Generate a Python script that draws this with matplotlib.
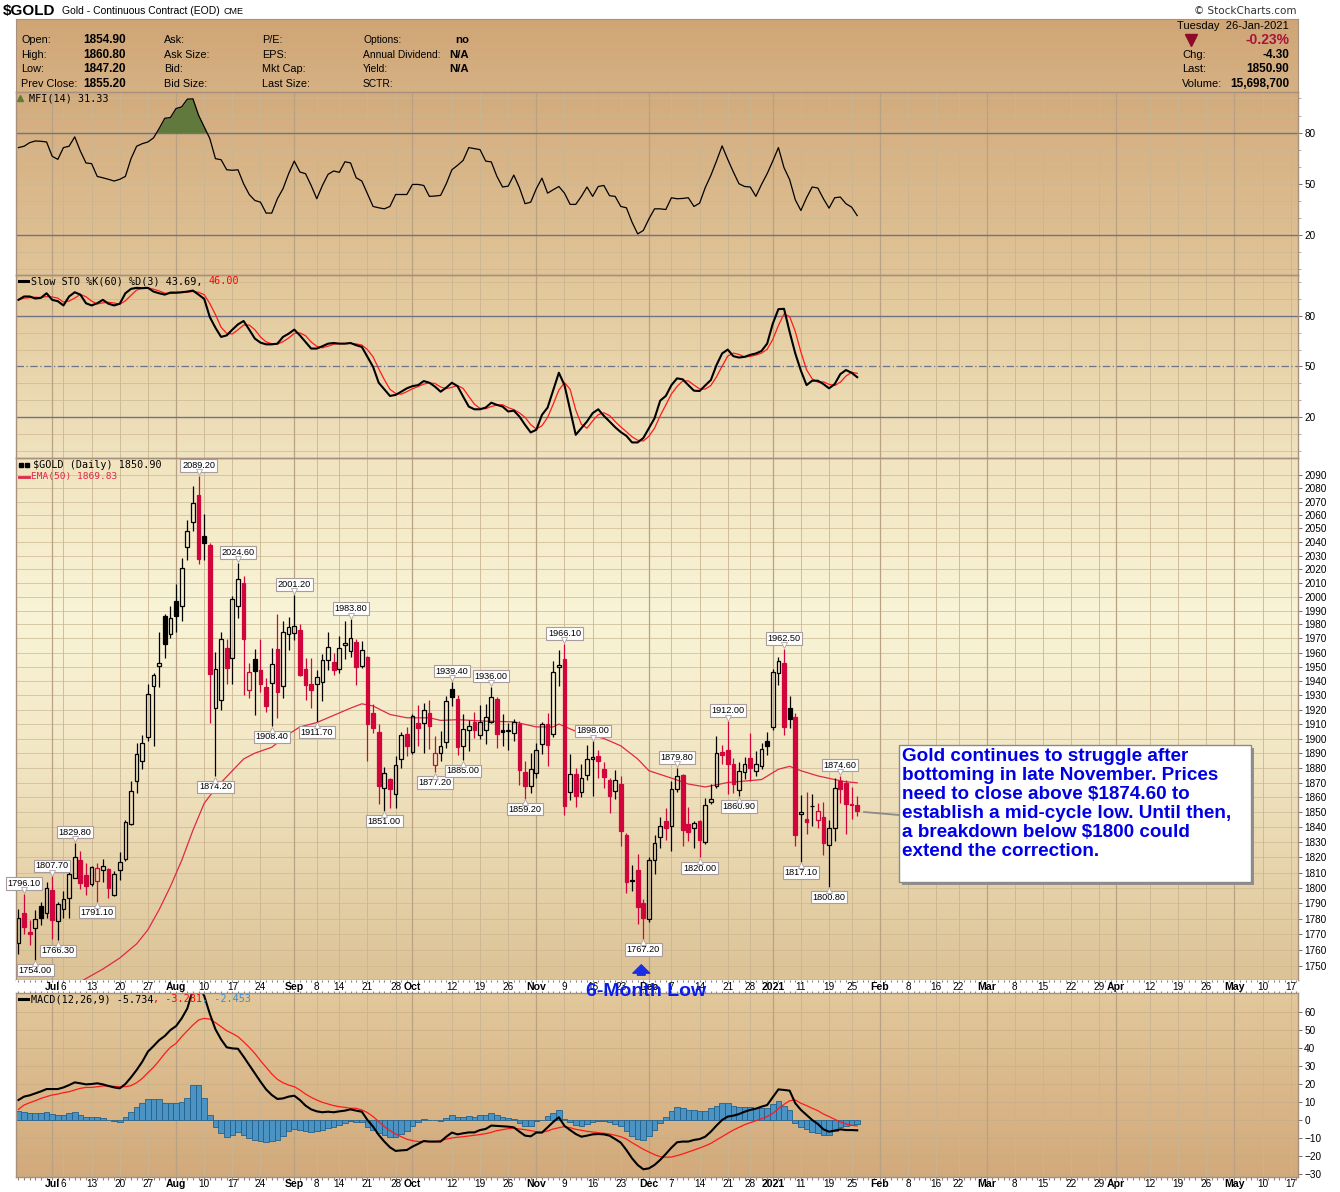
import numpy as np
import pandas as pd
import matplotlib
matplotlib.use("Agg")
import matplotlib.pyplot as plt
import matplotlib.transforms as mtrans
from matplotlib.colors import to_rgb
from matplotlib.patches import Rectangle, FancyArrowPatch
from matplotlib.ticker import FixedLocator, NullLocator, FuncFormatter

plt.rcParams['font.family'] = ['Liberation Sans', 'DejaVu Sans']

W, H = 1340, 1192

# ---------------- data ----------------
start_date = '2020-06-23'
end_axis_date = '2021-05-28'
holidays = ['2020-07-03', '2020-09-07', '2020-11-26', '2020-12-25',
            '2021-01-01', '2021-01-18', '2021-02-15', '2021-04-02']

opens = [1764.6, 1784.0, 1771.8, 1774.0, 1788.5, 1783.6, 1798.6, 1778.5, 1786.7, 1793.4,
         1806.8, 1818.1, 1808.2, 1802.3, 1804.6, 1811.5, 1812.7, 1795.6, 1812.0, 1818.8,
         1842.2, 1870.9, 1884.9, 1901.0, 1936.3, 1950.6, 1986.0, 1973.2, 1996.7, 1993.5,
         2036.0, 2054.7, 2075.2, 2044.2, 2037.6, 1921.2, 1926.6, 1963.5, 1956.3, 1993.2,
         2010.0, 1933.6, 1955.6, 1947.8, 1935.5, 1938.5, 1962.7, 1936.6, 1973.3, 1974.0,
         1976.2, 1948.5, 1937.6, 1937.6, 1939.2, 1954.7, 1953.5, 1948.5, 1965.7, 1961.0,
         1967.6, 1950.4, 1956.8, 1917.6, 1904.7, 1866.6, 1872.2, 1862.5, 1885.8, 1902.9,
         1891.0, 1910.9, 1910.9, 1917.8, 1881.9, 1890.3, 1897.6, 1934.5, 1927.1, 1894.9,
         1905.6, 1911.6, 1902.4, 1905.6, 1911.6, 1927.1, 1905.9, 1905.0, 1903.6, 1909.7,
         1877.4, 1867.7, 1876.7, 1896.5, 1909.7, 1902.9, 1949.9, 1955.6, 1863.6, 1875.6,
         1863.6, 1875.1, 1885.8, 1888.0, 1879.0, 1871.9, 1864.3, 1869.2, 1834.9, 1805.5,
         1811.8, 1790.5, 1779.8, 1818.2, 1833.6, 1844.2, 1840.9, 1865.9, 1875.1, 1842.4,
         1839.3, 1844.2, 1830.2, 1857.2, 1867.7, 1891.0, 1892.4, 1882.8, 1864.8, 1877.4,
         1886.9, 1877.9, 1881.3, 1898.3, 1907.9, 1945.7, 1952.8, 1921.3, 1914.9, 1848.6,
         1845.5, 1853.9, 1845.1, 1846.9, 1828.2, 1839.3, 1871.1, 1870.0, 1855.6, 1854.9]
highs = [1786.7, 1796.1, 1779.2, 1785.8, 1790.7, 1804.1, 1807.7, 1790.7, 1797.9, 1814.2,
         1829.8, 1824.5, 1816.5, 1814.2, 1816.5, 1818.8, 1813.1, 1810.9, 1823.4, 1844.5,
         1870.9, 1896.7, 1902.2, 1938.0, 1945.5, 1974.4, 1987.5, 1993.0, 2009.1, 2027.9,
         2056.0, 2081.7, 2089.2, 2060.6, 2039.4, 1960.5, 1974.4, 1969.6, 2000.4, 2024.6,
         2014.9, 1952.8, 1962.2, 1969.3, 1942.2, 1962.9, 1987.2, 1982.4, 1985.5, 2001.2,
         1980.0, 1956.3, 1956.3, 1948.0, 1959.1, 1974.8, 1959.8, 1971.6, 1982.4, 1983.8,
         1969.3, 1968.1, 1957.5, 1923.6, 1909.7, 1880.6, 1873.3, 1888.0, 1904.7, 1907.9,
         1917.1, 1923.2, 1924.8, 1926.4, 1901.7, 1905.2, 1929.7, 1939.4, 1930.4, 1917.1,
         1912.5, 1918.5, 1923.2, 1923.6, 1936.0, 1929.0, 1917.1, 1910.9, 1913.2, 1912.0,
         1884.6, 1890.3, 1897.2, 1911.6, 1917.8, 1954.0, 1961.7, 1966.1, 1889.2, 1880.1,
         1882.4, 1895.6, 1898.0, 1892.0, 1884.2, 1872.9, 1878.3, 1874.5, 1836.5, 1815.1,
         1822.1, 1792.7, 1820.3, 1834.9, 1846.9, 1852.7, 1871.1, 1879.8, 1875.6, 1853.5,
         1844.2, 1844.7, 1859.4, 1869.2, 1901.7, 1895.6, 1912.0, 1886.9, 1884.2, 1887.4,
         1904.0, 1891.5, 1897.2, 1904.7, 1948.7, 1956.8, 1962.5, 1929.7, 1917.8, 1861.6,
         1863.9, 1862.5, 1856.5, 1857.2, 1844.7, 1872.9, 1874.6, 1871.5, 1866.7, 1860.8]
lows = [1757.6, 1770.3, 1763.0, 1754.0, 1776.3, 1780.7, 1767.4, 1766.3, 1780.7, 1780.7,
        1806.4, 1799.2, 1795.6, 1801.5, 1791.1, 1804.1, 1793.4, 1794.7, 1805.2, 1817.5,
        1841.5, 1863.0, 1879.3, 1898.6, 1895.1, 1935.6, 1956.1, 1970.7, 1974.4, 1982.6,
        2026.6, 2048.3, 2024.1, 2026.6, 1910.5, 1874.2, 1920.0, 1938.0, 1938.0, 1984.8,
        1930.1, 1928.0, 1916.2, 1932.4, 1918.5, 1908.4, 1913.9, 1928.0, 1961.7, 1968.6,
        1943.3, 1926.4, 1921.3, 1911.7, 1926.0, 1948.0, 1944.5, 1945.7, 1955.1, 1956.8,
        1937.3, 1949.2, 1884.6, 1904.0, 1855.3, 1851.0, 1853.1, 1853.0, 1880.1, 1888.0,
        1889.2, 1894.9, 1890.3, 1892.6, 1877.2, 1884.6, 1893.7, 1922.5, 1888.7, 1885.0,
        1891.5, 1900.1, 1899.4, 1896.0, 1910.9, 1893.3, 1894.9, 1892.0, 1898.3, 1868.4,
        1859.2, 1863.2, 1872.9, 1889.6, 1881.3, 1901.0, 1936.3, 1848.5, 1858.0, 1853.6,
        1860.3, 1871.5, 1860.9, 1873.3, 1866.5, 1849.5, 1858.7, 1827.6, 1797.0, 1798.1,
        1776.6, 1767.2, 1778.3, 1809.4, 1826.1, 1831.3, 1824.3, 1863.6, 1827.6, 1830.9,
        1826.1, 1820.0, 1828.7, 1855.4, 1866.5, 1882.4, 1862.0, 1863.2, 1860.9, 1872.2,
        1871.1, 1874.5, 1879.0, 1888.7, 1905.6, 1937.3, 1902.4, 1907.0, 1827.6, 1817.1,
        1835.3, 1840.9, 1839.8, 1821.7, 1800.8, 1830.9, 1856.5, 1835.3, 1845.5, 1847.2]
closes = [1780.7, 1774.7, 1770.3, 1780.0, 1780.7, 1800.1, 1779.2, 1789.6, 1793.0, 1809.1,
          1820.4, 1803.0, 1801.5, 1813.6, 1813.1, 1814.5, 1800.1, 1809.1, 1816.9, 1843.2,
          1864.0, 1889.2, 1896.7, 1930.7, 1944.0, 1952.5, 1965.9, 1985.0, 1986.0, 2020.8,
          2048.3, 2068.8, 2027.4, 2039.4, 1945.2, 1948.4, 1969.6, 1948.9, 1998.0, 2012.5,
          1969.3, 1946.4, 1947.0, 1937.8, 1922.5, 1951.6, 1932.0, 1974.5, 1978.1, 1979.0,
          1944.0, 1936.8, 1933.6, 1942.6, 1954.7, 1963.8, 1947.8, 1962.9, 1966.9, 1970.1,
          1949.6, 1961.7, 1909.7, 1907.0, 1867.7, 1876.7, 1865.4, 1881.9, 1902.4, 1894.9,
          1915.5, 1907.0, 1919.7, 1908.6, 1890.3, 1894.9, 1926.2, 1929.0, 1894.2, 1906.3,
          1908.6, 1905.6, 1911.4, 1914.9, 1929.0, 1903.3, 1904.5, 1905.6, 1911.4, 1878.3,
          1867.7, 1879.0, 1892.0, 1909.7, 1895.6, 1946.2, 1951.3, 1854.2, 1875.6, 1860.9,
          1872.9, 1885.8, 1887.4, 1884.6, 1873.8, 1860.7, 1871.5, 1837.6, 1804.2, 1804.6,
          1787.7, 1780.4, 1818.4, 1829.8, 1840.9, 1839.3, 1865.9, 1874.5, 1838.0, 1836.9,
          1842.9, 1831.3, 1854.9, 1858.9, 1890.1, 1888.5, 1882.4, 1868.8, 1877.9, 1882.8,
          1879.6, 1882.8, 1892.6, 1894.7, 1946.2, 1954.0, 1907.9, 1913.2, 1834.7, 1850.2,
          1843.8, 1854.4, 1851.0, 1829.8, 1839.8, 1866.5, 1865.4, 1855.4, 1855.2, 1850.9]

high_labels = [1, 6, 10, 32, 39, 49, 59, 77, 84, 97, 102, 117, 126, 136, 146]
low_labels = [3, 7, 14, 35, 45, 53, 65, 74, 79, 90, 111, 121, 128, 139, 144]

ema_x = [9, 12, 15, 18, 21, 23, 25, 27, 29, 31, 33, 35, 37, 40, 42, 45, 48, 50, 53, 56,
         59, 61, 63, 66, 69, 73, 75, 78, 83, 88, 92, 95, 96, 99, 104, 107, 110, 112, 116,
         119, 122, 126, 132, 135, 137, 139, 142, 145, 147, 149]
ema_y = [1736, 1742, 1748, 1755, 1764, 1773, 1786, 1801, 1818, 1838, 1856, 1866, 1874,
         1886, 1890, 1894, 1903, 1908, 1911, 1916, 1921, 1924, 1922.5, 1916.6, 1914.3,
         1914.3, 1912.5, 1913, 1912, 1911.5, 1908, 1908, 1910, 1905, 1900, 1895, 1886,
         1878, 1873, 1869, 1867, 1870, 1872, 1879, 1881, 1878, 1874.5, 1872, 1870.5, 1869.83]

mfi = [71.2, 72.0, 74.1, 75.1, 74.9, 74.5, 66.1, 64.3, 71.2, 72.0,
       77.5, 69.2, 62.2, 61.8, 54.3, 53.5, 52.6, 51.6, 52.6, 54.3,
       64.7, 72.0, 73.5, 74.5, 76.9, 82.4, 88.4, 88.8, 94.1, 95.1,
       99.6, 99.8, 90.2, 83.3, 76.5, 64.7, 64.1, 58.2, 57.9, 58.2,
       50.0, 43.7, 40.2, 39.2, 32.8, 32.8, 41.2, 47.1, 55.9, 63.3,
       56.9, 55.9, 49.0, 41.2, 49.0, 55.5, 57.5, 56.7, 62.9, 62.2,
       53.5, 51.6, 44.1, 36.7, 35.9, 35.3, 36.7, 43.7, 43.7, 43.7,
       49.6, 49.6, 49.0, 42.6, 42.8,
       43.2, 50.0, 58.2, 60.8, 63.7, 71.2, 70.6, 70.0, 63.3, 62.8,
       54.3, 48.1, 48.6, 55.1, 47.7, 38.3, 39.2, 47.1, 53.3, 44.5,
       46.5, 48.4, 44.5, 37.9, 37.9, 42.6, 48.1, 42.6, 48.4, 49.0,
       43.0, 42.6, 36.7, 35.9, 27.5, 20.6, 22.6, 29.4, 35.3, 35.3,
       34.9, 41.8, 41.2, 41.4, 41.8, 36.7, 38.6, 47.7, 54.9, 63.3,
       72.2, 64.3, 56.9, 50.0, 48.4, 48.1, 42.6, 49.6, 55.9, 63.3,
       71.2, 59.4, 52.4, 40.6, 34.3, 41.8, 48.1, 47.5, 41.2, 35.7,
       41.8, 42.2, 38.3, 36.3, 31.33]

sto_k = [89.4, 91.4, 91.4, 90.2, 90.6, 93.3, 89.4, 88.6, 86.1, 91.4,
         93.9, 92.5, 87.4, 86.1, 87.4, 89.4, 87.1, 86.1, 87.1, 93.3,
         95.9, 96.5, 96.3, 96.5, 94.3, 93.3, 92.5, 93.7, 93.7, 93.9,
         94.3, 94.9, 92.5, 90.0, 79.2, 72.9, 67.5, 68.4, 71.8, 74.9,
         76.9, 71.8, 66.5, 64.1, 63.1, 63.1, 63.5, 67.5, 69.4, 71.8,
         68.4, 64.5, 60.6, 60.6, 62.0, 63.5, 63.9, 63.5, 63.5, 63.9,
         62.6, 61.6, 55.7, 49.8, 40.4, 36.5, 32.6, 33.2, 35.1, 37.1,
         38.4, 39.0, 41.4, 40.4, 38.1,
         35.1, 37.5, 40.4, 38.4, 32.2, 26.3, 24.7, 24.7, 25.7, 28.6,
         27.3, 26.3, 23.4, 23.9, 20.4, 15.5, 11.0, 12.6, 21.4, 25.7,
         36.1, 46.3, 39.0, 24.3, 9.6, 13.5, 17.5, 22.4, 24.7, 20.8,
         17.5, 14.1, 11.2, 9.0, 5.1, 5.1, 7.7, 13.5, 19.4, 29.8,
         32.6, 39.0, 43.0, 42.4, 39.0, 35.7, 35.5, 38.8, 42.0, 50.8,
         57.7, 60.0, 56.1, 55.3, 55.7, 56.9, 57.7, 59.2, 63.5, 75.3,
         83.9, 84.1, 70.4, 57.7, 47.5, 39.0, 41.6, 41.6, 39.6, 37.1,
         39.6, 45.5, 47.9, 46.3, 43.69]

macd = [11.1, 13.0, 13.7, 14.8, 15.9, 17.2, 17.2, 17.2, 18.1, 19.4,
        20.9, 20.4, 19.8, 20.0, 20.4, 19.8, 18.9, 18.1, 17.6, 20.0,
        23.7, 27.8, 32.4, 38.0, 41.1, 44.4, 46.7, 50.0, 52.2, 56.5,
        62.0, 72.5, 75.0, 69.0, 59.0, 50.4, 44.8, 40.4, 39.8, 39.6,
        35.2, 30.6, 25.9, 21.3, 17.0, 13.9, 11.7, 12.0, 13.0, 13.5,
        11.1, 8.0, 5.9, 4.8, 4.3, 4.6, 4.3, 4.8, 5.2, 5.9,
        5.2, 4.6, 0.0, -3.7, -8.3, -12.0, -15.2, -17.2, -16.9, -16.7,
        -14.8, -13.3, -11.7, -12.0, -12.0,
        -12.0, -9.3, -7.0, -8.0, -7.4, -6.9, -6.9, -5.6, -5.0, -3.1,
        -3.3, -3.5, -3.7, -4.1, -6.5, -8.7, -9.1, -7.0, -7.0, -4.1,
        -1.1, 1.5, -3.3, -5.6, -7.8, -9.3, -8.7, -8.0, -7.8, -8.0,
        -8.7, -10.6, -12.6, -16.7, -21.3, -25.0, -27.4, -26.9, -25.0, -22.2,
        -18.9, -15.4, -12.4, -12.0, -12.0, -11.1, -10.6, -9.3, -6.5, -3.1,
        0.0, 1.9, 2.4, 3.3, 4.6, 5.6, 6.3, 7.4, 8.3, 12.6,
        17.0, 16.7, 16.3, 9.3, 5.6, 2.8, 0.0, -2.2, -5.2, -6.5,
        -5.9, -5.2, -5.6, -5.6, -5.734]
signal = [5.9, 8.3, 9.6, 10.7, 12.0, 13.0, 13.9, 14.4, 15.2, 15.7,
          16.7, 17.6, 18.1, 18.1, 18.5, 18.9, 18.9, 18.7, 18.5, 18.5,
          19.1, 20.7, 23.1, 26.3, 29.3, 33.0, 37.0, 40.4, 42.6, 46.3,
          49.6, 52.8, 55.6, 56.5, 56.1, 54.1, 51.9, 49.6, 48.1, 46.3,
          43.5, 40.4, 37.0, 33.0, 29.3, 25.6, 22.6, 20.7, 19.4, 18.5,
          16.7, 14.4, 12.6, 11.1, 9.8, 8.9, 8.0, 7.4, 7.0, 6.5,
          6.5, 5.6, 4.1, 1.9, -0.9, -3.7, -5.9, -7.8, -9.3, -10.7,
          -11.5, -12.0, -12.0, -12.0, -12.0,
          -11.5, -10.6, -10.0, -9.6, -9.3, -8.9, -8.5, -8.1, -7.6, -6.9,
          -5.9, -5.4, -4.8, -4.6, -5.0, -5.4, -5.9, -6.5, -6.9, -6.1,
          -5.0, -4.3, -3.7, -4.3, -5.2, -5.7, -6.3, -6.7, -7.0, -7.4,
          -7.8, -8.5, -9.3, -10.6, -12.6, -14.4, -16.3, -17.8, -19.3, -20.4,
          -20.7, -20.6, -19.8, -18.9, -17.8, -16.7, -15.6, -14.4, -13.0, -11.1,
          -9.3, -7.4, -5.6, -4.1, -2.6, -1.5, -0.4, 0.7, 1.9, 3.7,
          6.3, 8.7, 10.7, 11.1, 9.3, 8.0, 6.5, 5.2, 3.3, 1.9,
          0.4, -1.1, -2.2, -3.0, -3.281]

tick_dates = ['2020-07-01', '2020-07-06', '2020-07-13', '2020-07-20', '2020-07-27',
              '2020-08-03', '2020-08-10', '2020-08-17', '2020-08-24',
              '2020-09-01', '2020-09-08', '2020-09-14', '2020-09-21', '2020-09-28',
              '2020-10-01', '2020-10-12', '2020-10-19', '2020-10-26',
              '2020-11-02', '2020-11-09', '2020-11-16', '2020-11-23',
              '2020-12-01', '2020-12-07', '2020-12-14', '2020-12-21', '2020-12-28',
              '2021-01-04', '2021-01-11', '2021-01-19', '2021-01-25',
              '2021-02-01', '2021-02-08', '2021-02-16', '2021-02-22',
              '2021-03-01', '2021-03-08', '2021-03-15', '2021-03-22', '2021-03-29',
              '2021-04-01', '2021-04-12', '2021-04-19', '2021-04-26',
              '2021-05-03', '2021-05-10', '2021-05-17']
tick_text = ['Jul', '6', '13', '20', '27', 'Aug', '10', '17', '24',
             'Sep', '8', '14', '21', '28', 'Oct', '12', '19', '26',
             'Nov', '9', '16', '23', 'Dec', '7', '14', '21', '28',
             '2021', '11', '19', '25', 'Feb', '8', '16', '22',
             'Mar', '8', '15', '22', '29', 'Apr', '12', '19', '26',
             'May', '10', '17']

price_ticks = list(range(1750, 2091, 10))
macd_ticks = list(range(-30, 61, 10))

# ---------------- helpers ----------------
days = pd.bdate_range(start_date, end_axis_date)
days = days[~days.isin(pd.to_datetime(holidays))]
day_pos = {d.strftime('%Y-%m-%d'): i for i, d in enumerate(days)}
tick_x = [day_pos[d] for d in tick_dates]
is_month = [not t.isdigit() or t == '2021' for t in tick_text]

n = len(closes)
x = np.arange(n)
XLIM = (-0.43, 227.3)
all_days = np.arange(0, 228)
RED = '#d1053b'
SPINE = '#a8907f'
FAINT = '#cbb892'


def rect(top, bot):
    return [16 / W, 1 - bot / H, 1282 / W, (bot - top) / H]


fig = plt.figure(figsize=(W / 100, H / 100), dpi=100)
fig.patch.set_facecolor('white')


def panel_bg(top, bot, stops):
    bg = fig.add_axes(rect(top, bot), zorder=0)
    pos = np.linspace(0, 1, 256)
    sp = [s for s, _ in stops]
    cols = np.array([to_rgb(c) for _, c in stops])
    img = np.stack([np.interp(pos, sp, cols[:, k]) for k in range(3)], axis=1)[:, None, :]
    bg.imshow(img, aspect='auto', extent=[0, 1, 0, 1], origin='upper')
    bg.set_axis_off()


def panel(top, bot):
    ax = fig.add_axes(rect(top, bot), zorder=1)
    ax.set_facecolor('none')
    ax.set_xlim(*XLIM)
    for s in ax.spines.values():
        s.set_color(SPINE)
        s.set_linewidth(1.0)
    ax.set_xticks([])
    ax.yaxis.tick_right()
    ax.tick_params(axis='y', which='major', direction='out', length=3, width=0.7,
                   color='#7a6a6a', labelsize=7.2, pad=1.5)
    ax.tick_params(axis='y', which='minor', direction='out', length=2, width=0.5,
                   color='#9a8a8a')
    for xv, m in zip(tick_x, is_month):
        ax.axvline(xv, color='#b9a283' if m else '#c9b592', lw=0.9 if m else 0.6, zorder=0.5)
    return ax


# ---------------- header ----------------
panel_bg(19, 92, [(0, '#cfa575'), (1, '#d6b184')])
hdr = fig.add_axes(rect(19, 92), zorder=1)
hdr.set_facecolor('none')
hdr.set_xticks([])
hdr.set_yticks([])
for s in hdr.spines.values():
    s.set_color(SPINE)


def ftext(px, py, s, **kw):
    kw.setdefault('va', 'center')
    kw.setdefault('fontsize', 7.8)
    fig.text(px / W, 1 - py / H, s, **kw)


ftext(3, 11, '$GOLD', fontsize=11, fontweight='bold')
ftext(62, 11, 'Gold - Continuous Contract (EOD)', fontsize=7.5)
ftext(224, 11, 'CME', fontsize=6.5)
ftext(1296, 11, '\u00a9 StockCharts.com', fontsize=7.5, ha='right', color='#333333',
      family=['DejaVu Sans'])

rows = [40, 55, 69, 84]
col1 = ['Open:', 'High:', 'Low:', 'Prev Close:']
val1 = ['1854.90', '1860.80', '1847.20', '1855.20']
col2 = ['Ask:', 'Ask Size:', 'Bid:', 'Bid Size:']
col3 = ['P/E:', 'EPS:', 'Mkt Cap:', 'Last Size:']
col4 = ['Options:', 'Annual Dividend:', 'Yield:', 'SCTR:']
val4 = ['no', 'N/A', 'N/A', '']
for r, a, b, c, d, e, f in zip(rows, col1, val1, col2, col3, col4, val4):
    ftext(21, r, a)
    ftext(83, r, b, fontweight='bold', fontsize=8.5)
    ftext(164, r, c)
    ftext(262, r, d)
    ftext(363, r, e, fontsize=7.4)
    ftext(469, r, f, fontweight='bold', fontsize=8.2, ha='right')

ftext(1289, 26, 'Tuesday  26-Jan-2021', ha='right', fontsize=8)
ftext(1289, 40, '-0.23%', ha='right', fontweight='bold', fontsize=10, color='#a8143c')
fig.lines.append(plt.Line2D([1191 / W], [1 - 40 / H], marker='v', markersize=8,
                            color='#8c0a2a', transform=fig.transFigure))
ftext(1182, 55, 'Chg:', fontsize=8)
ftext(1289, 55, '-4.30', ha='right', fontweight='bold', fontsize=8.5)
ftext(1182, 69, 'Last:', fontsize=8)
ftext(1289, 69, '1850.90', ha='right', fontweight='bold', fontsize=8.5)
ftext(1182, 84, 'Volume:', fontsize=8)
ftext(1289, 84, '15,698,700', ha='right', fontweight='bold', fontsize=8.5)

MONO = {'family': ['DejaVu Sans Mono'], 'fontsize': 7.3}

# ---------------- MFI ----------------
panel_bg(92, 275, [(0, '#d3ab7d'), (1, '#e0c497')])
ax1 = panel(92, 275)
ax1.set_ylim(-3.5, 103.8)
for v in range(0, 101, 10):
    if v not in (20, 80):
        ax1.axhline(v, color=FAINT, lw=0.5, zorder=0.4)
ax1.axhline(80, color='#6f7387', lw=1.0, zorder=0.6)
ax1.axhline(20, color='#6f7387', lw=1.0, zorder=0.6)
mfi_arr = np.array(mfi)
ax1.fill_between(x, 80, mfi_arr, where=mfi_arr >= 80, interpolate=True,
                 color='#62793e', zorder=1.5, lw=0)
ax1.plot(x, mfi_arr, color='black', lw=0.9, zorder=2)
ax1.yaxis.set_major_locator(FixedLocator([20, 50, 80]))
ax1.yaxis.set_minor_locator(FixedLocator(range(0, 101, 10)))
ax1.plot([0.003], [0.965], marker='^', color='#5f7a3a', markersize=5,
         transform=ax1.transAxes, clip_on=False)
ax1.text(0.0105, 0.967, 'MFI(14) 31.33', transform=ax1.transAxes, va='center', **MONO)

# ---------------- Slow STO ----------------
panel_bg(275, 458, [(0, '#e1c698'), (1, '#f0e3bf')])
ax2 = panel(275, 458)
ax2.set_ylim(-4.1, 104.1)
for v in range(0, 101, 10):
    if v not in (20, 50, 80):
        ax2.axhline(v, color=FAINT, lw=0.5, zorder=0.4)
ax2.axhline(80, color='#6f7387', lw=1.0, zorder=0.6)
ax2.axhline(20, color='#6f7387', lw=1.0, zorder=0.6)
ax2.axhline(50, color='#6f7387', lw=0.9, ls=(0, (6, 2, 1, 2)), zorder=0.6)
sto_d = pd.Series(sto_k).rolling(3, min_periods=1).mean()
ax2.plot(x, sto_d, color='#ff1a1a', lw=0.9, zorder=2)
ax2.plot(x, sto_k, color='black', lw=1.5, zorder=2.1)
ax2.yaxis.set_major_locator(FixedLocator([20, 50, 80]))
ax2.yaxis.set_minor_locator(FixedLocator(range(0, 101, 10)))
ax2.plot([0.002, 0.009], [0.967, 0.967], color='black', lw=2.2,
         transform=ax2.transAxes, clip_on=False)
t2 = ax2.text(0.0115, 0.967, 'Slow STO %K(60) %D(3) 43.69, ', transform=ax2.transAxes,
              va='center', **MONO)
ax2.annotate('46.00', xy=(1, 0.5), xycoords=t2, va='center', ha='left', color='red', **MONO)

# ---------------- price ----------------
panel_bg(458, 980, [(0, '#f1e4bf'), (0.3, '#f9f4d7'), (0.55, '#f3e8c6'), (1, '#dcc295')])
ax3 = panel(458, 980)
ax3.set_yscale('log')
ax3.set_ylim(1741.1, 2102.9)
for v in price_ticks:
    ax3.axhline(v, color=FAINT, lw=0.5, zorder=0.4)
ax3.yaxis.set_major_locator(FixedLocator(price_ticks))
ax3.yaxis.set_major_formatter(FuncFormatter(lambda v, p: f'{v:.0f}'))
ax3.yaxis.set_minor_locator(NullLocator())

ax3.plot(ema_x, ema_y, color='#e02848', lw=0.9, zorder=1.5)

o = np.array(opens)
c = np.array(closes)
hi = np.array(highs)
lo = np.array(lows)
prev = np.concatenate([[o[0]], c[:-1]])
cols = np.where(c >= prev, 'black', RED)
top = np.maximum(o, c)
bot = np.minimum(o, c)
ax3.vlines(x, top, hi, colors=cols, lw=0.9, zorder=2)
ax3.vlines(x, lo, bot, colors=cols, lw=0.9, zorder=2)
bw = 0.66
for i in range(n):
    filled = c[i] < o[i]
    ax3.add_patch(Rectangle((i - bw / 2, bot[i]), bw, max(top[i] - bot[i], 0.35),
                            facecolor=cols[i] if filled else 'none',
                            edgecolor=cols[i], lw=0.9, zorder=2.2))

lab_box = dict(boxstyle='square,pad=0.18', fc='white', ec='#a89c9c', lw=0.8)
up = mtrans.ScaledTranslation(0, 2.6 / 72, fig.dpi_scale_trans)
dn = mtrans.ScaledTranslation(0, -2.6 / 72, fig.dpi_scale_trans)
for i in high_labels:
    ax3.annotate(f'{highs[i]:.2f}', xy=(i, highs[i]), xytext=(0, 7.6),
                 textcoords='offset points', ha='center', va='center', fontsize=6.6,
                 bbox=lab_box, zorder=6)
    ax3.plot(i, highs[i], marker='v', markersize=4.5, mfc='white', mec='#b0a4a4',
             mew=0.6, transform=ax3.transData + up, zorder=6.5, clip_on=False)
for i in low_labels:
    ax3.annotate(f'{lows[i]:.2f}', xy=(i, lows[i]), xytext=(0, -7.6),
                 textcoords='offset points', ha='center', va='center', fontsize=6.6,
                 bbox=lab_box, zorder=6)
    ax3.plot(i, lows[i], marker='^', markersize=4.5, mfc='white', mec='#b0a4a4',
             mew=0.6, transform=ax3.transData + dn, zorder=6.5, clip_on=False)

ax3.text(0.0132, 0.986, '$GOLD (Daily) 1850.90', transform=ax3.transAxes, va='center',
         **MONO)
ax3.plot([0.004, 0.0085], [0.986, 0.986], marker='s', markersize=3, color='black',
         transform=ax3.transAxes, clip_on=False, lw=0)
ax3.plot([0.002, 0.010], [0.9645, 0.9645], color='#e02848', lw=2,
         transform=ax3.transAxes, clip_on=False)
ax3.text(0.0115, 0.9645, 'EMA(50) 1869.83', transform=ax3.transAxes, va='center',
         color='#e02848', family=['DejaVu Sans Mono'], fontsize=6.8)

# annotation box
bx0, by0, bw_, bh_ = (899 - 16) / 1282, 1 - (882 - 458) / 522, 352 / 1282, 137 / 522
ax3.add_patch(Rectangle((bx0 + 3 / 1282, by0 - 3 / 522), bw_, bh_, transform=ax3.transAxes,
                        facecolor='#8f8f8f', edgecolor='none', zorder=7))
ax3.add_patch(Rectangle((bx0, by0), bw_, bh_, transform=ax3.transAxes,
                        facecolor='white', edgecolor='#8a8a8a', lw=1, zorder=7.1))
ax3.plot([(864 - 16) / 1282, bx0], [1 - (812 - 458) / 522, 1 - (815 - 458) / 522],
         transform=ax3.transAxes, color='#8a8a8a', lw=1.3, zorder=7)
ax3.text((902 - 16) / 1282, 1 - (748 - 458) / 522,
         'Gold continues to struggle after\nbottoming in late November. Prices\n'
         'need to close above $1874.60 to\nestablish a mid-cycle low. Until then,\n'
         'a breakdown below $1800 could\nextend the correction.',
         transform=ax3.transAxes, va='top', ha='left', color='#0000e6',
         fontsize=13.6, fontweight='bold', linespacing=1.16, zorder=8)

# ---------------- date band ----------------
band = fig.add_axes(rect(980, 993), zorder=1)
band.set_facecolor('white')
band.set_xlim(*XLIM)
band.set_ylim(0, 1)
band.set_yticks([])
band.set_xticks(all_days)
band.set_xticklabels([])
band.tick_params(axis='x', which='major', top=True, bottom=True, direction='in',
                 length=1.6, width=0.8, color='#8a8080')
for s in band.spines.values():
    s.set_visible(False)
for xv, t, m in zip(tick_x, tick_text, is_month):
    band.text(xv, 0.45, t, ha='center', va='center', fontsize=7.6 if m else 7.2,
              fontweight='bold' if m else 'normal')

# ---------------- MACD ----------------
panel_bg(993, 1177, [(0, '#e2c89b'), (1, '#d2a97b')])
ax4 = panel(993, 1177)
ax4.set_ylim(-31.7, 70.6)
for v in macd_ticks:
    ax4.axhline(v, color='#c7ad86', lw=0.5, zorder=0.4)
hist = np.array(macd) - np.array(signal)
ax4.bar(x, hist, width=1.0, color='#4a93c2', edgecolor='#22618e', lw=0.6, zorder=1.5)
ax4.plot(x, signal, color='#ff1a1a', lw=0.9, zorder=2)
ax4.plot(x, macd, color='black', lw=1.5, zorder=2.1)
ax4.yaxis.set_major_locator(FixedLocator(macd_ticks))
ax4.set_xticks(all_days)
ax4.set_xticklabels([])
ax4.tick_params(axis='x', which='major', bottom=True, direction='out', length=1.8,
                width=0.8, color='#8a8080')
ax4.plot([0.002, 0.009], [0.967, 0.967], color='black', lw=2.2,
         transform=ax4.transAxes, clip_on=False)
t4 = ax4.text(0.0115, 0.967, 'MACD(12,26,9) -5.734', transform=ax4.transAxes,
              va='center', **MONO)
t4b = ax4.annotate(', -3.281', xy=(1, 0.5), xycoords=t4, va='center', ha='left',
                   color='red', **MONO)
ax4.annotate(', -2.453', xy=(1, 0.5), xycoords=t4b, va='center', ha='left',
             color='#3a8fd4', **MONO)
btrans = mtrans.blended_transform_factory(ax4.transData, ax4.transAxes)
for xv, t, m in zip(tick_x, tick_text, is_month):
    ax4.text(xv, -0.037, t, transform=btrans, ha='center', va='center',
             fontsize=7.6 if m else 7.2, fontweight='bold' if m else 'normal',
             clip_on=False)

# ---------------- 6-month low marker ----------------
low_i = 111
lx = (16 + (low_i - XLIM[0]) / (XLIM[1] - XLIM[0]) * 1282 - 2) / W
arrow = FancyArrowPatch((lx, 1 - 978 / H), (lx, 1 - 962 / H), transform=fig.transFigure,
                        arrowstyle='simple,head_length=0.55,head_width=1.1,tail_width=0.5',
                        mutation_scale=11, color='#1a2ee6', zorder=10)
fig.add_artist(arrow)
fig.text(646 / W, 1 - 991 / H, '6-Month Low', ha='center', va='center', color='#0a1ee8',
         fontsize=14, fontweight='bold', zorder=11)

fig.savefig('out.png', dpi=100, facecolor='white')
